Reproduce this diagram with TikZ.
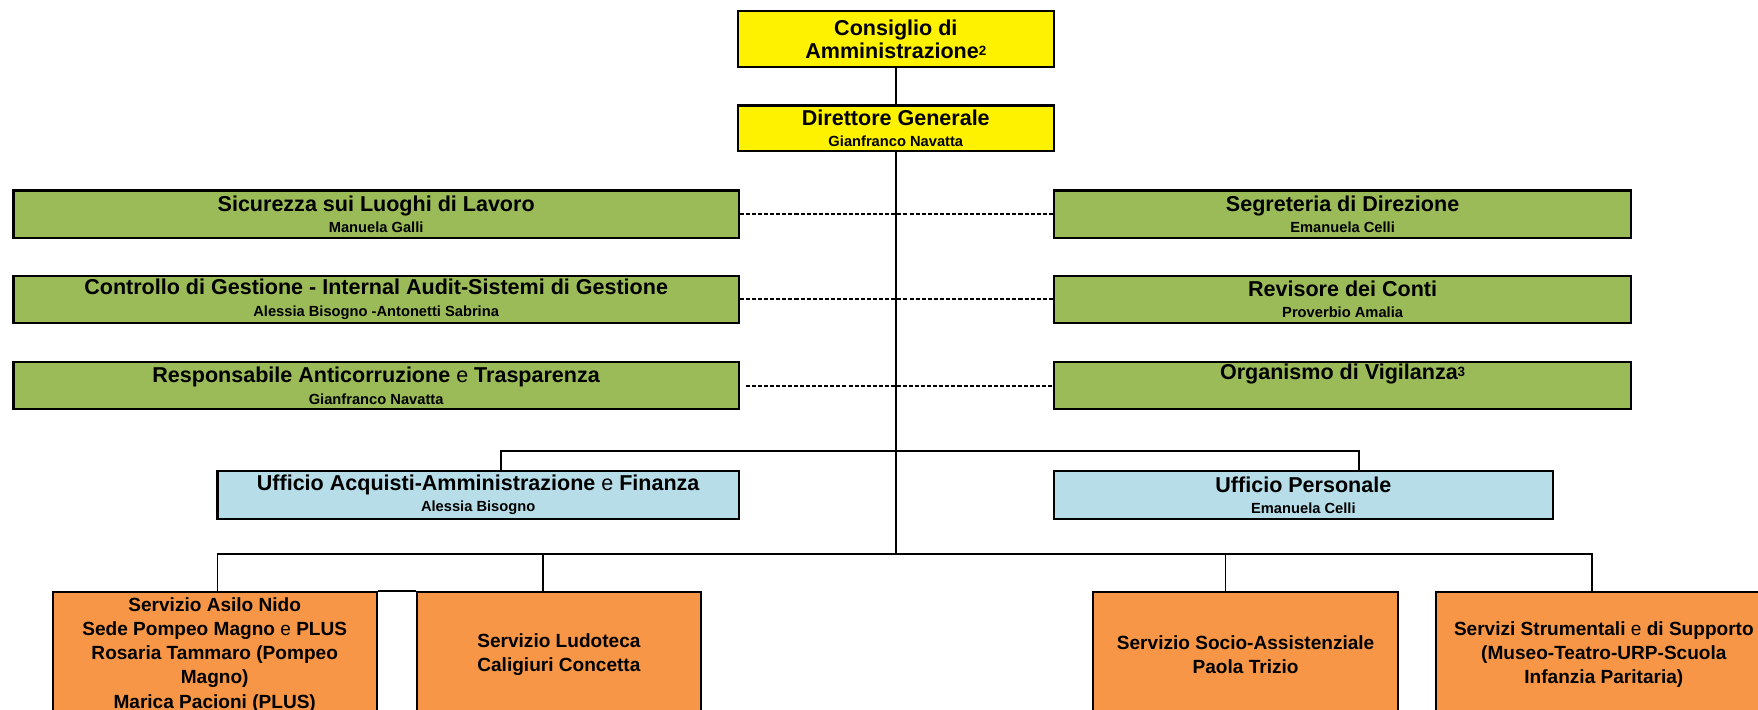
\documentclass[tikz,border=0pt]{standalone}
\usepackage{fontspec}
\setmainfont{Liberation Sans}
\usetikzlibrary{calc}
\definecolor{verdestaff}{HTML}{9BBB59}
\definecolor{azzurrouff}{HTML}{B7DDE8}
\definecolor{arancioserv}{HTML}{F79646}
\newcommand\nome[1]{{\fontsize{6.55pt}{9.5pt}\selectfont #1}}
\newcommand\reg[1]{{\mdseries #1}}
\newcommand\nota[1]{\raisebox{0.25ex}{\fontsize{6pt}{6pt}\selectfont #1}}

\begin{document}
\begin{tikzpicture}[x=0.5pt, y=-0.5pt,
  riquadro/.style={draw, line width=1pt, inner sep=0pt, align=center,
    font=\fontsize{9.6pt}{9.5pt}\selectfont\bfseries},
  vertice/.style={riquadro, fill=yellow, minimum width=141pt},
  staff/.style={riquadro, fill=verdestaff, minimum height=21pt},
  ufficio/.style={riquadro, fill=azzurrouff, minimum height=21.5pt},
  servizio/.style={riquadro, fill=arancioserv, minimum height=56pt,
    font=\fontsize{8.5pt}{10.8pt}\selectfont\bfseries},
  linea/.style={line width=0.8pt},
  tratteggio/.style={line width=0.8pt, dash pattern=on 1.8pt off 0.9pt}]
  \clip (0,0) rectangle (1568,633);
  \fill[white] (0,0) rectangle (1568,633);

  \node[vertice, minimum height=25pt] (cda) at (799,35) {Consiglio di\\[1pt]Amministrazione\nota{2}};
  \node[vertice, minimum height=20.5pt] (dg) at (799,114.5) {Direttore Generale\\\nome{Gianfranco Navatta}};

  \node[staff, minimum width=323.5pt] (sic) at (335.5,191) {Sicurezza sui Luoghi di Lavoro\\\nome{Manuela Galli}};
  \node[staff, minimum width=257.5pt] (seg) at (1197.5,191) {Segreteria di Direzione\\\nome{Emanuela Celli}};
  \node[staff, minimum width=323.5pt] (cdg) at (335.5,267) {Controllo di Gestione - Internal Audit-Sistemi di Gestione\\\nome{Alessia Bisogno -Antonetti Sabrina}};
  \node[staff, minimum width=257.5pt] (rev) at (1197.5,267) {Revisore dei Conti\\\nome{Proverbio Amalia}};
  \node[staff, minimum width=323.5pt] (rac) at (335.5,344) {Responsabile Anticorruzione \reg{e} Trasparenza\\\nome{Gianfranco Navatta}};
  \node[staff, minimum width=257.5pt] (odv) at (1197.5,344) {Organismo di Vigilanza\nota{3}\\\nome{\strut}};

  \node[ufficio, minimum width=232.5pt] (uaf) at (426.5,441.5) {Ufficio Acquisti-Amministrazione \reg{e} Finanza\\\nome{Alessia Bisogno}};
  \node[ufficio, minimum width=222.5pt] (upers) at (1162.5,441.5) {Ufficio Personale\\\nome{Emanuela Celli}};

  \node[servizio, minimum width=144.5pt] (asilo) at (191.5,584) {Servizio Asilo Nido\\Sede Pompeo Magno \reg{e} PLUS\\Rosaria Tammaro (Pompeo\\Magno)\\Marica Pacioni (PLUS)};
  \node[servizio, minimum width=126.5pt] (ludo) at (498.5,584) {Servizio Ludoteca\\Caligiuri Concetta};
  \node[servizio, minimum width=136pt] (socio) at (1111,584) {Servizio Socio-Assistenziale\\Paola Trizio};
  \node[servizio, minimum width=149.5pt] (serv) at (1430.5,584) {Servizi Strumentali \reg{e} di Supporto\\(Museo-Teatro-URP-Scuola\\Infanzia Paritaria)};

  \coordinate (nodo1) at (799,402);
  \coordinate (nodo2) at (799,494);

  \draw[linea] (cda) -- (dg);
  \draw[linea] (dg) -- (nodo2);
  \draw[linea] ($(uaf.north)+(20.5,0)$) |- (nodo1) -| ($(upers.north)+(49.5,0)$);
  \draw[linea] ($(asilo.north)+(2.5,0)$) |- (nodo2) -| ($(serv.north)+(-10.5,0)$);
  \draw[linea] ($(ludo.north)+(-14.5,0)$) -- ++(0,-34);
  \draw[linea] ($(socio.north)+(-18,0)$) -- ++(0,-34);
  \draw[line width=1pt] (asilo.north east) -- (ludo.north west);

  \draw[tratteggio] (sic) -- (seg);
  \draw[tratteggio] (cdg) -- (rev);
  \draw[tratteggio, shorten <=2.5pt] (rac) -- (odv);
\end{tikzpicture}
\end{document}
